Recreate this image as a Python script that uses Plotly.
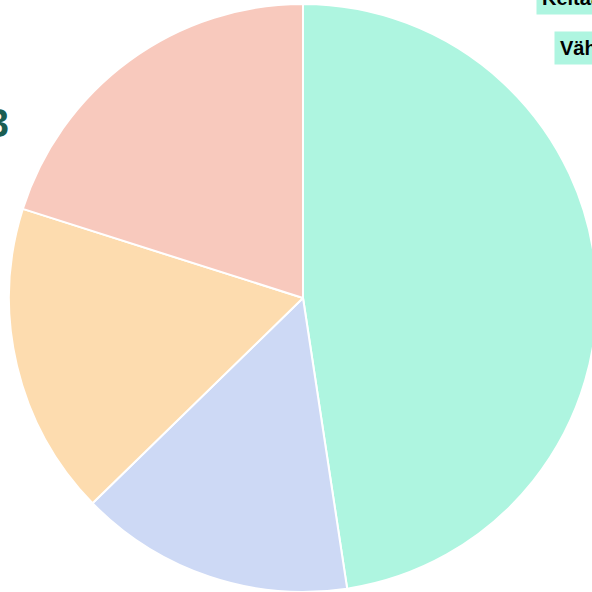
import plotly.graph_objects as go

labels = ["Keitaat", "Vähemmän", "Muut", "Ei tietoa"]
values = [47.6, 15.1, 17.2, 20.1]
colors = ["#aef5e0", "#cdd9f5", "#fddcaf", "#f8c9bd"]

W = 606
H = 592

fig = go.Figure(go.Pie(
    labels=labels,
    values=values,
    marker=dict(colors=colors, line=dict(color="white", width=2)),
    sort=False,
    direction="clockwise",
    rotation=0,
    textinfo="none",
    hoverinfo="label+percent",
    showlegend=False,
    domain=dict(x=[9 / W, 597 / W], y=[0, 1 - 4 / H]),
))

font_lbl = dict(family="Liberation Sans", size=20, color="black")
fig.add_annotation(text="<b>Keitaat</b>", xref="paper", yref="paper",
                   x=536 / W, y=1 - (-2) / H, xanchor="left", yanchor="middle",
                   showarrow=False, bgcolor="#aef5e0", borderpad=5, font=font_lbl)
fig.add_annotation(text="<b>Vähemmän</b>", xref="paper", yref="paper",
                   x=554 / W, y=1 - 48 / H, xanchor="left", yanchor="middle",
                   showarrow=False, bgcolor="#aef5e0", borderpad=5, font=font_lbl)
fig.add_annotation(text="<b>2023</b>", xref="paper", yref="paper",
                   x=11 / W, y=1 - 123 / H, xanchor="right", yanchor="middle",
                   showarrow=False, font=dict(family="Liberation Sans", size=40, color="#1b5e52"))

fig.update_layout(width=W, height=H, margin=dict(l=0, r=0, t=0, b=0),
                  paper_bgcolor="white", plot_bgcolor="white")
fig.write_html("out.html", config={"displayModeBar": False},
               post_script="document.body.style.margin='0';document.body.style.overflow='hidden';")
